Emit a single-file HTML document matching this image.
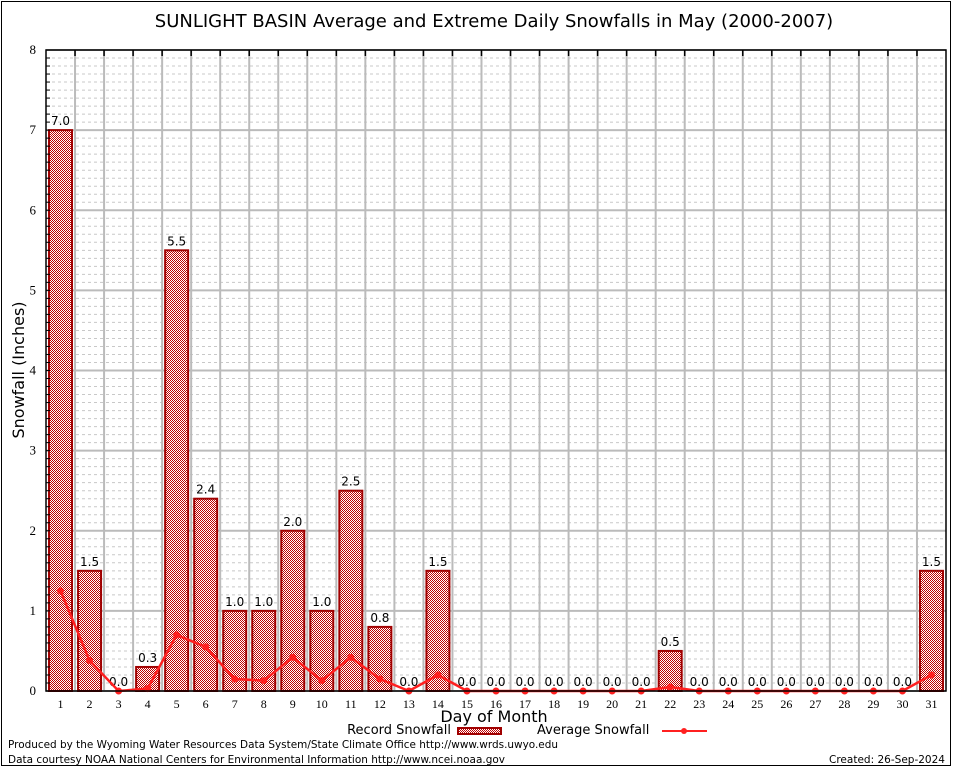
<!DOCTYPE html>
<html><head><meta charset="utf-8"><style>
html,body{margin:0;padding:0;background:#fff;}
svg{display:block;font-family:"DejaVu Sans","Liberation Sans",sans-serif;}
</style></head><body>
<svg id="chart" width="954" height="768" viewBox="0 0 954 768">
<defs>
<pattern id="chk" width="2" height="2" patternUnits="userSpaceOnUse">
<rect width="2" height="2" fill="#ffffff"/>
<rect width="1" height="1" fill="#c00000"/>
<rect x="1" y="1" width="1" height="1" fill="#c00000"/>
</pattern>
</defs>
<rect x="1.5" y="1.5" width="949" height="764" fill="none" stroke="#000"/>
<text x="494" y="27" font-size="18" text-anchor="middle">SUNLIGHT BASIN Average and Extreme Daily Snowfalls in May (2000-2007)</text>
<g id="grid"></g>
<g id="bars"></g>
<g id="line"></g>
<g id="axes"></g>
<text transform="translate(24,370) rotate(-90)" font-size="16" text-anchor="middle">Snowfall (Inches)</text>
<text x="494" y="722" font-size="16" text-anchor="middle">Day of Month</text>
<g>
<text x="451" y="734" font-size="13" text-anchor="end">Record Snowfall</text>
<rect x="458" y="728" width="43" height="6" fill="url(#chk)" stroke="#a00000" stroke-width="2"/>
<text x="537" y="734" font-size="13">Average Snowfall</text>
<line x1="662" y1="731" x2="707" y2="731" stroke="#ff2020" stroke-width="2"/>
<circle cx="684" cy="731" r="3" fill="#ff2020"/>
</g>
<text x="8" y="748" font-size="11" textLength="550" lengthAdjust="spacingAndGlyphs">Produced by the Wyoming Water Resources Data System/State Climate Office http://www.wrds.uwyo.edu</text>
<text x="8" y="763" font-size="11" textLength="497" lengthAdjust="spacingAndGlyphs">Data courtesy NOAA National Centers for Environmental Information http://www.ncei.noaa.gov</text>
<text x="945" y="763" font-size="11" text-anchor="end" textLength="116" lengthAdjust="spacingAndGlyphs">Created: 26-Sep-2024</text>
</svg>
<script>
const days = [1,2,3,4,5,6,7,8,9,10,11,12,13,14,15,16,17,18,19,20,21,22,23,24,25,26,27,28,29,30,31];
const recordSnow = [7.0,1.5,0.0,0.3,5.5,2.4,1.0,1.0,2.0,1.0,2.5,0.8,0.0,1.5,0.0,0.0,0.0,0.0,0.0,0.0,0.0,0.5,0.0,0.0,0.0,0.0,0.0,0.0,0.0,0.0,1.5];
const avgSnow = [1.25,0.38,0.0,0.03,0.7,0.55,0.15,0.13,0.42,0.13,0.42,0.15,0.0,0.2,0.0,0.0,0.0,0.0,0.0,0.0,0.0,0.05,0.0,0.0,0.0,0.0,0.0,0.0,0.0,0.0,0.2];
const yTicks = [0,1,2,3,4,5,6,7,8];

const NS='http://www.w3.org/2000/svg';
const L=46,R=946,T=50,B=691,YMAX=8;
const cw=(R-L)/days.length;
const xc=i=>L+cw*(i+0.5);
const y=v=>B-(v/YMAX)*(B-T);
function mk(tag,attrs,parent){const e=document.createElementNS(NS,tag);for(const k in attrs)e.setAttribute(k,attrs[k]);parent.appendChild(e);return e;}
const grid=document.getElementById('grid'),bars=document.getElementById('bars'),line=document.getElementById('line'),axes=document.getElementById('axes');

for(let k=1;k<YMAX*10;k++){ if(k%10===0)continue;
  const g=mk('line',{x1:L,x2:R,y1:y(k/10),y2:y(k/10),stroke:'#c8c8c8','stroke-dasharray':'3,3','stroke-width':1},grid);
  
  
}
yTicks.forEach(v=>{
  const g=mk('line',{x1:L,x2:R,y1:y(v),y2:y(v),stroke:'#bbbbbb','stroke-width':2},grid);
  
  
  const t=mk('text',{x:L-10,y:y(v)+4,'font-size':13,'text-anchor':'end','font-family':'Liberation Serif, serif'},axes);
  t.textContent=v;
  
  
});
for(let i=1;i<days.length;i++){
  const g=mk('line',{x1:L+cw*i,x2:L+cw*i,y1:T,y2:B,stroke:'#bbbbbb','stroke-width':2},grid);
  
  
  const tk=mk('line',{x1:L+cw*i,x2:L+cw*i,y1:T,y2:T+6,stroke:'#000','stroke-width':1.5},axes);
  
  
}
for(let k=1;k<YMAX*10;k++){
  const tk=mk('line',{x1:L,x2:L+4,y1:y(k/10),y2:y(k/10),stroke:'#000'},axes);
  
  
}
days.forEach((d,i)=>{
  const v=recordSnow[i];
  if(v>0){
    const b=mk('rect',{x:xc(i)-11.5,y:y(v),width:23,height:B-y(v),fill:'url(#chk)',stroke:'#a00000','stroke-width':2},bars);
    
    
  }
  const lb=mk('text',{x:xc(i),y:y(v)-5,'font-size':12,'text-anchor':'middle'},bars);
  lb.textContent=v.toFixed(1);
  
  
  const xl=mk('text',{x:xc(i),y:B+17,'font-size':12,'text-anchor':'middle','font-family':'Liberation Serif, serif'},axes);
  xl.textContent=d;
  
  
});
const pl=mk('polyline',{points:avgSnow.map((v,i)=>xc(i)+','+y(v)).join(' '),fill:'none',stroke:'#ff2020','stroke-width':2.5},line);


avgSnow.forEach((v,i)=>{
  const c=mk('circle',{cx:xc(i),cy:y(v),r:3.5,fill:'#ff2020'},line);
  
  
});
const fr=mk('rect',{x:L,y:T,width:R-L,height:B-T,fill:'none',stroke:'#000','stroke-width':1.5},axes);


</script>
</body></html>
